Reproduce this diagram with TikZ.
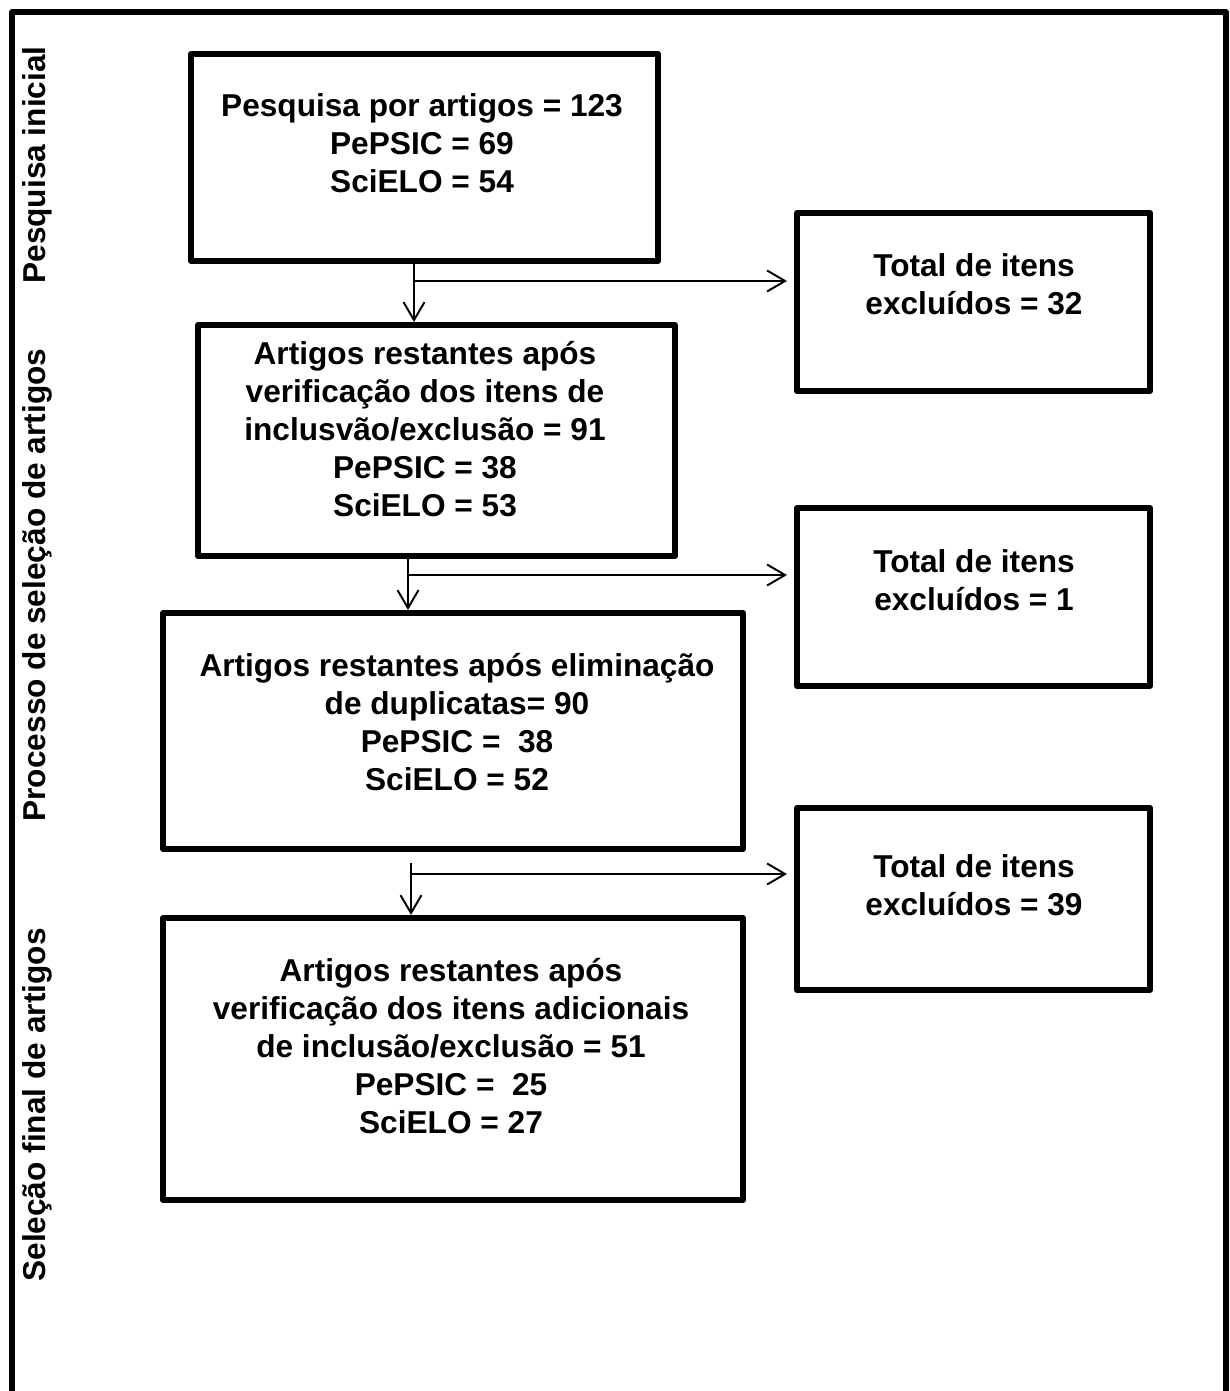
\documentclass[tikz,border=0pt]{standalone}
\usepackage{fontspec}
\setmainfont{Liberation Sans}
\usetikzlibrary{arrows.meta,positioning,fit}

\begin{document}
\begin{tikzpicture}[
  x=0.02cm, y=-0.02cm,
  box/.style={draw, line width=3.4pt, line join=round, inner sep=0pt},
  txt/.style={align=center, inner sep=0pt, font=\bfseries\fontsize{18}{21.6}\selectfont},
  side/.style={txt, rotate=90},
  arr/.style={-{Straight Barb[length=0.36cm,width=0.42cm]}, line width=1.1pt},
  link/.style={line width=1.1pt}
]
\useasboundingbox (0,0) rectangle (1229,1391);

% outer frame, open at the bottom
\draw[line width=3pt, line join=round] (12,1391) -- (12,12) -- (1226,12) -- (1226,1391);

% phase labels
\node[side] (ph1) at (37,165) {Pesquisa inicial};
\node[side] (ph2) at (37,585) {Processo de seleção de artigos};
\node[side] (ph3) at (37,1105) {Seleção final de artigos};

% main column
\node[box, fit={(191,54) (658,261)}] (b1) {};
\node[box, fit={(198,325) (675,556)}] (b2) {};
\node[box, fit={(163,613) (743,849)}] (b3) {};
\node[box, fit={(163,918) (743,1200)}] (b4) {};

\node[txt] (t1) at (422,143) {Pesquisa por artigos = 123\\PePSIC = 69\\SciELO = 54};
\node[txt] (t2) at (425,429) {Artigos restantes após\\verificação dos itens de\\inclusvão/exclusão = 91\\PePSIC = 38\\SciELO = 53};
\node[txt] (t3) at (457,722) {Artigos restantes após eliminação\\de duplicatas= 90\\PePSIC = \ 38\\SciELO = 52};
\node[txt] (t4) at (451,1046) {Artigos restantes após\\verificação dos itens adicionais\\de inclusão/exclusão = 51\\PePSIC = \ 25\\SciELO = 27};

% excluded items
\node[box, fit={(797,213) (1150,391)}] (eA) {};
\node[box, fit={(797,508) (1150,686)}] (eB) {};
\node[box, fit={(797,808) (1150,990)}] (eC) {};

\node[txt] (tA) at (974,284) {Total de itens\\excluídos = 32};
\node[txt] (tB) at (974,580) {Total de itens\\excluídos = 1};
\node[txt] (tC) at (974,885) {Total de itens\\excluídos = 39};

% connectors
\coordinate (s1) at (414,281);
\coordinate (s2) at (408,575);
\coordinate (s3) at (411,874);

\draw[arr] (b1.south -| s1) -- (b2.north -| s1);
\draw[arr] (s1) -- ([xshift=-4pt]s1 -| eA.west);
\draw[arr] (b2.south -| s2) -- (b3.north -| s2);
\draw[arr] (s2) -- ([xshift=-4pt]s2 -| eB.west);
\draw[arr, shorten <=6pt] (b3.south -| s3) -- (b4.north -| s3);
\draw[arr] (s3) -- ([xshift=-4pt]s3 -| eC.west);
\end{tikzpicture}
\end{document}
